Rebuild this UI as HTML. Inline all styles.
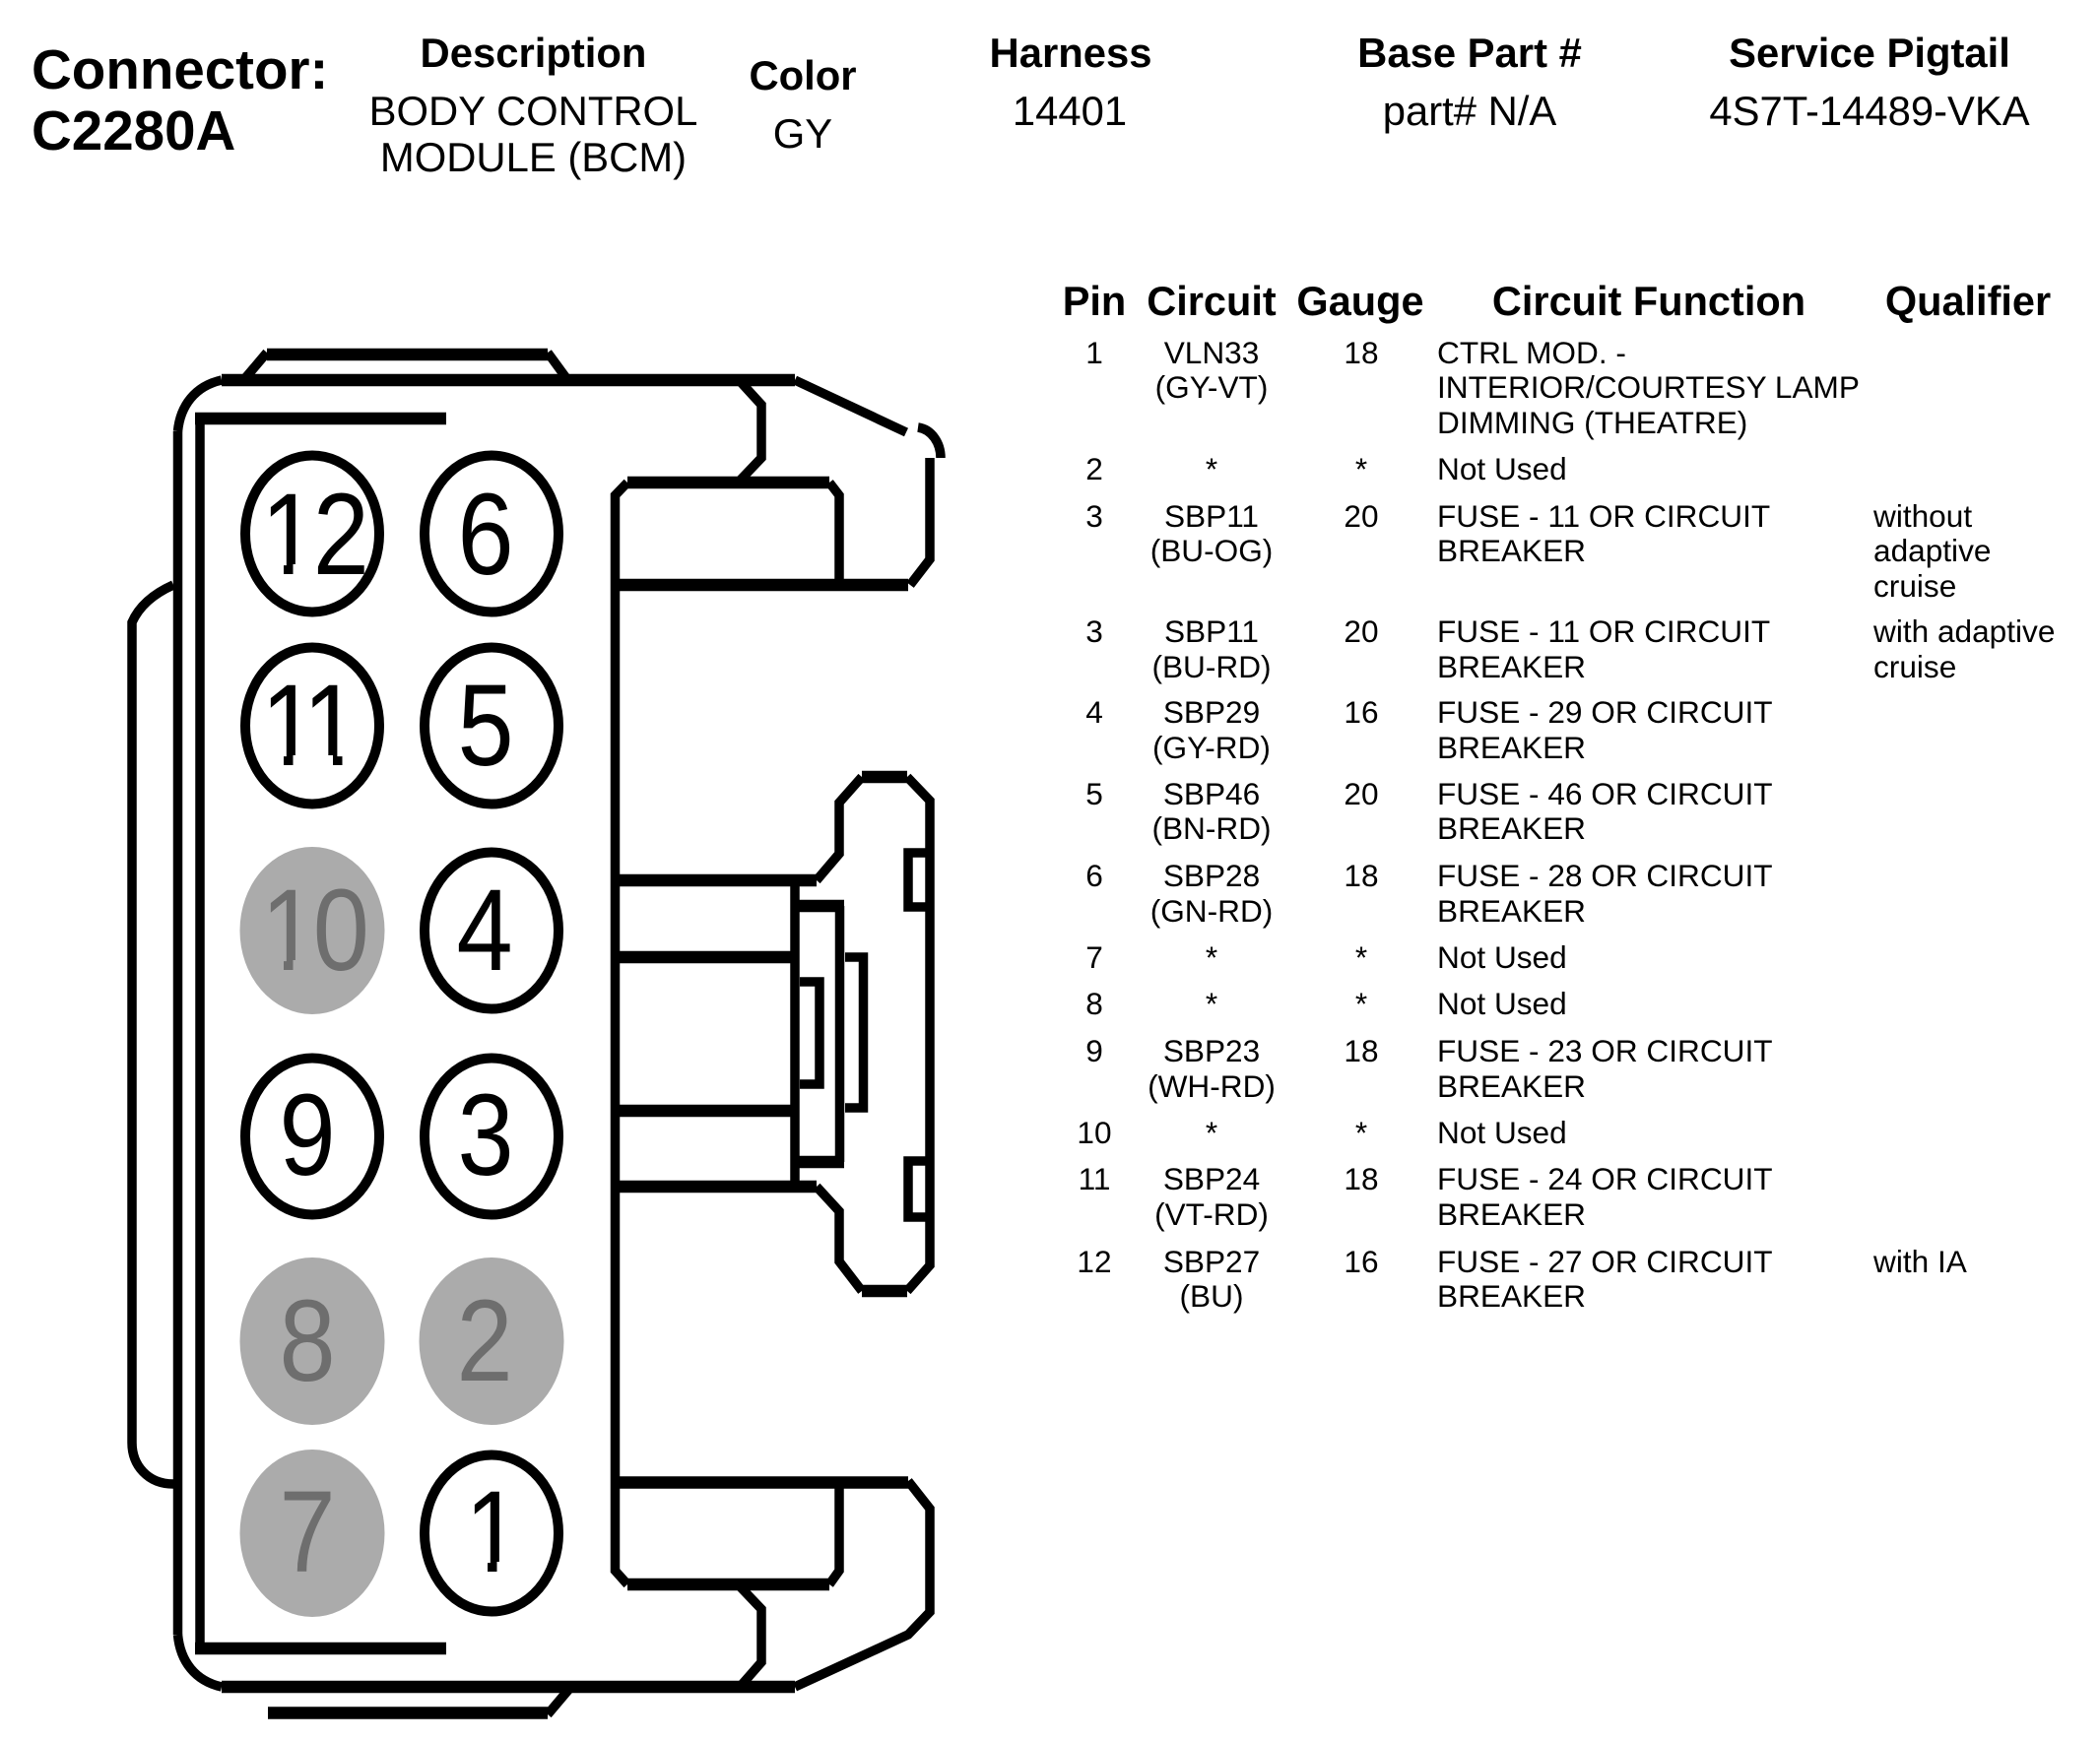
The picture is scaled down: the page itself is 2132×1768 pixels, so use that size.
<!DOCTYPE html>
<html><head><meta charset="utf-8"><style>
html,body{margin:0;padding:0;background:#fff}
svg{display:block}
text{font-family:"Liberation Sans",Arial,sans-serif;fill:#000}
.h{font-weight:bold;font-size:41.800px;text-anchor:middle}
.v{font-size:41.800px;text-anchor:middle}
.th{font-weight:bold;font-size:41.500px;text-anchor:middle}
.c{font-size:31.600px;text-anchor:middle}
.l{font-size:31.600px}
.n{font-size:118px;text-anchor:middle}
.s{text-anchor:start;letter-spacing:-5px}
.t{text-anchor:start;letter-spacing:-8px}
.g{fill:#6e6e6e}
</style></head><body>
<svg width="2132" height="1768" viewBox="0 0 2132 1768" xmlns="http://www.w3.org/2000/svg">
<rect width="2132" height="1768" fill="#fff"/>
<text x="32" y="90" font-size="56.500" font-weight="bold">Connector:</text>
<text x="32" y="152" font-size="56.500" font-weight="bold">C2280A</text>
<text class="h" x="541.500" y="68">Description</text>
<text class="v" x="541.500" y="127">BODY CONTROL</text>
<text class="v" x="541.500" y="174">MODULE (BCM)</text>
<text class="h" x="815" y="91">Color</text>
<text class="v" x="815" y="150">GY</text>
<text class="h" x="1087" y="68">Harness</text>
<text class="v" x="1086" y="127">14401</text>
<text class="h" x="1492" y="68">Base Part #</text>
<text class="v" x="1492" y="127">part# N/A</text>
<text class="h" x="1898" y="68">Service Pigtail</text>
<text class="v" x="1898" y="127">4S7T-14489-VKA</text>

<text class="th" x="1111" y="320">Pin</text>
<text class="th" x="1230" y="320">Circuit</text>
<text class="th" x="1381" y="320">Gauge</text>
<text class="th" x="1674" y="320">Circuit Function</text>
<text class="th" x="1998" y="320">Qualifier</text>

<g>
<text class="c" x="1111" y="369">1</text><text class="c" x="1230" y="369">VLN33</text><text class="c" x="1230" y="404">(GY-VT)</text><text class="c" x="1382" y="369">18</text>
<text class="l" x="1459" y="369">CTRL MOD. -</text><text class="l" x="1459" y="404">INTERIOR/COURTESY LAMP</text><text class="l" x="1459" y="440">DIMMING (THEATRE)</text>
<text class="c" x="1111" y="487">2</text><text class="c" x="1230" y="487">*</text><text class="c" x="1382" y="487">*</text><text class="l" x="1459" y="487">Not Used</text>
<text class="c" x="1111" y="535">3</text><text class="c" x="1230" y="535">SBP11</text><text class="c" x="1230" y="570">(BU-OG)</text><text class="c" x="1382" y="535">20</text>
<text class="l" x="1459" y="535">FUSE - 11 OR CIRCUIT</text><text class="l" x="1459" y="570">BREAKER</text>
<text class="l" x="1902" y="535">without</text><text class="l" x="1902" y="570">adaptive</text><text class="l" x="1902" y="606">cruise</text>
<text class="c" x="1111" y="652">3</text><text class="c" x="1230" y="652">SBP11</text><text class="c" x="1230" y="688">(BU-RD)</text><text class="c" x="1382" y="652">20</text>
<text class="l" x="1459" y="652">FUSE - 11 OR CIRCUIT</text><text class="l" x="1459" y="688">BREAKER</text>
<text class="l" x="1902" y="652">with adaptive</text><text class="l" x="1902" y="688">cruise</text>
<text class="c" x="1111" y="734">4</text><text class="c" x="1230" y="734">SBP29</text><text class="c" x="1230" y="770">(GY-RD)</text><text class="c" x="1382" y="734">16</text>
<text class="l" x="1459" y="734">FUSE - 29 OR CIRCUIT</text><text class="l" x="1459" y="770">BREAKER</text>
<text class="c" x="1111" y="817">5</text><text class="c" x="1230" y="817">SBP46</text><text class="c" x="1230" y="852">(BN-RD)</text><text class="c" x="1382" y="817">20</text>
<text class="l" x="1459" y="817">FUSE - 46 OR CIRCUIT</text><text class="l" x="1459" y="852">BREAKER</text>
<text class="c" x="1111" y="900">6</text><text class="c" x="1230" y="900">SBP28</text><text class="c" x="1230" y="936">(GN-RD)</text><text class="c" x="1382" y="900">18</text>
<text class="l" x="1459" y="900">FUSE - 28 OR CIRCUIT</text><text class="l" x="1459" y="936">BREAKER</text>
<text class="c" x="1111" y="983">7</text><text class="c" x="1230" y="983">*</text><text class="c" x="1382" y="983">*</text><text class="l" x="1459" y="983">Not Used</text>
<text class="c" x="1111" y="1030">8</text><text class="c" x="1230" y="1030">*</text><text class="c" x="1382" y="1030">*</text><text class="l" x="1459" y="1030">Not Used</text>
<text class="c" x="1111" y="1078">9</text><text class="c" x="1230" y="1078">SBP23</text><text class="c" x="1230" y="1114">(WH-RD)</text><text class="c" x="1382" y="1078">18</text>
<text class="l" x="1459" y="1078">FUSE - 23 OR CIRCUIT</text><text class="l" x="1459" y="1114">BREAKER</text>
<text class="c" x="1111" y="1161">10</text><text class="c" x="1230" y="1161">*</text><text class="c" x="1382" y="1161">*</text><text class="l" x="1459" y="1161">Not Used</text>
<text class="c" x="1111" y="1208">11</text><text class="c" x="1230" y="1208">SBP24</text><text class="c" x="1230" y="1244">(VT-RD)</text><text class="c" x="1382" y="1208">18</text>
<text class="l" x="1459" y="1208">FUSE - 24 OR CIRCUIT</text><text class="l" x="1459" y="1244">BREAKER</text>
<text class="c" x="1111" y="1292">12</text><text class="c" x="1230" y="1292">SBP27</text><text class="c" x="1230" y="1327">(BU)</text><text class="c" x="1382" y="1292">16</text>
<text class="l" x="1459" y="1292">FUSE - 27 OR CIRCUIT</text><text class="l" x="1459" y="1327">BREAKER</text>
<text class="l" x="1902" y="1292">with IA</text>
</g>

<!-- connector -->
<g fill="none" stroke="#000" stroke-linejoin="miter">
  <g stroke-width="12.500">
    <path d="M271 360H556"/>
    <path d="M225 386H807"/>
    <path d="M225 1713H807"/>
    <path d="M272 1739.500H556"/>
    <path d="M198 425H453"/>
    <path d="M198 1674H453"/>
    <path d="M637 490H842"/>
    <path d="M637 1609H842"/>
    <path d="M625 594H922"/>
    <path d="M625 1505.500H922"/>
    <path d="M625 894H829"/>
    <path d="M625 1205H829"/>
    <path d="M625 972H807"/>
    <path d="M625 1128H807"/>
    <path d="M875 789H921"/>
    <path d="M875 1311H921"/>
    <path d="M807 920H857"/>
    <path d="M807 1180H857"/>
  </g>
  <g stroke-width="9.500">
    <path d="M249 384L271 358"/>
    <path d="M556 358L575 384"/>
    <path d="M556 1741L578 1715"/>
    <path d="M180.500 438C183 412 198 392 225 386"/>
    <path d="M180.500 1660C183 1687 198 1707 225 1713"/>
    <path d="M180.500 438V1660"/>
    <path d="M203 419V1680"/>
    <path d="M176 594C158 602 142 614 134 632V1465C134 1488 150 1507 176 1507"/>
    <path d="M807 386L920 439"/>
    <path d="M807 1713L922 1660L944 1637V1532L922 1504"/>
    <path d="M932 434C946 436 955 450 955 465"/>
    <path d="M944 465V568L924 594"/>
    <path d="M752 388L773 411V465L752 487"/>
    <path d="M752 1612L773 1634V1688L752 1712"/>
    <path d="M637 490L624.500 503V1595L637 1609"/>
    <path d="M842 490L852 503V594"/>
    <path d="M842 1609L852 1595V1505"/>
    <path d="M829 894L852 867V815L875 789"/>
    <path d="M829 1205L852 1230V1281L875 1311"/>
    <path d="M921 789L944 813V1285L921 1311"/>
    <path d="M807 894V1205"/>
    <path d="M852.500 920V1180"/>
    <path d="M858 972H876.500V1125H858"/>
    <path d="M812 997H832V1101H812"/>
    <path d="M944 866H922V921H944"/>
    <path d="M944 1179H922V1236H944"/>
  </g>
</g>

<!-- pins -->
<g fill="#fff" stroke="#000" stroke-width="10">
  <ellipse cx="317" cy="542" rx="68" ry="79.500"/>
  <ellipse cx="499" cy="542" rx="68" ry="79.500"/>
  <ellipse cx="317" cy="737" rx="68" ry="79.500"/>
  <ellipse cx="499" cy="737" rx="68" ry="79.500"/>
  <ellipse cx="499" cy="945" rx="68" ry="79.500"/>
  <ellipse cx="317" cy="1154" rx="68" ry="79.500"/>
  <ellipse cx="499" cy="1154" rx="68" ry="79.500"/>
  <ellipse cx="499" cy="1557" rx="68" ry="79.500"/>
</g>
<g fill="#ababab">
  <ellipse cx="317" cy="945" rx="73.500" ry="85"/>
  <ellipse cx="317" cy="1362" rx="73.500" ry="85"/>
  <ellipse cx="499" cy="1362" rx="73.500" ry="85"/>
  <ellipse cx="317" cy="1557" rx="73.500" ry="85"/>
</g>
<text class="n s" transform="translate(265,583) scale(.87,1)">12</text>
<text class="n" transform="translate(493,583) scale(.87,1)">6</text>
<text class="n t" transform="translate(265,777) scale(.87,1)">11</text>
<text class="n" transform="translate(493,777) scale(.87,1)">5</text>
<text class="n g s" transform="translate(265,985) scale(.87,1)">10</text>
<text class="n" transform="translate(492,985) scale(.87,1)">4</text>
<text class="n" transform="translate(312,1193) scale(.87,1)">9</text>
<text class="n" transform="translate(493,1193) scale(.87,1)">3</text>
<text class="n g" transform="translate(312,1402) scale(.87,1)">8</text>
<text class="n g" transform="translate(492,1402) scale(.87,1)">2</text>
<text class="n g" transform="translate(312,1596) scale(.87,1)">7</text>
<text class="n" transform="translate(500.500,1596) scale(.87,1)">1</text>
<!-- trim the foot of the large "1" glyphs: reference face has none -->
<g fill="#fff">
  <rect x="266" y="573" width="22" height="12"/>
  <rect x="297.500" y="573" width="22" height="12"/>
  <rect x="266" y="767" width="22" height="12"/>
  <rect x="297.500" y="767" width="40.500" height="12"/>
  <rect x="347.500" y="767" width="21" height="12"/>
  <rect x="470" y="1586" width="25" height="12"/>
  <rect x="504.500" y="1586" width="24" height="12"/>
</g>
<g fill="#ababab">
  <rect x="266" y="975" width="22" height="12"/>
  <rect x="297.500" y="975" width="22" height="12"/>
</g>
</svg>
</body></html>
